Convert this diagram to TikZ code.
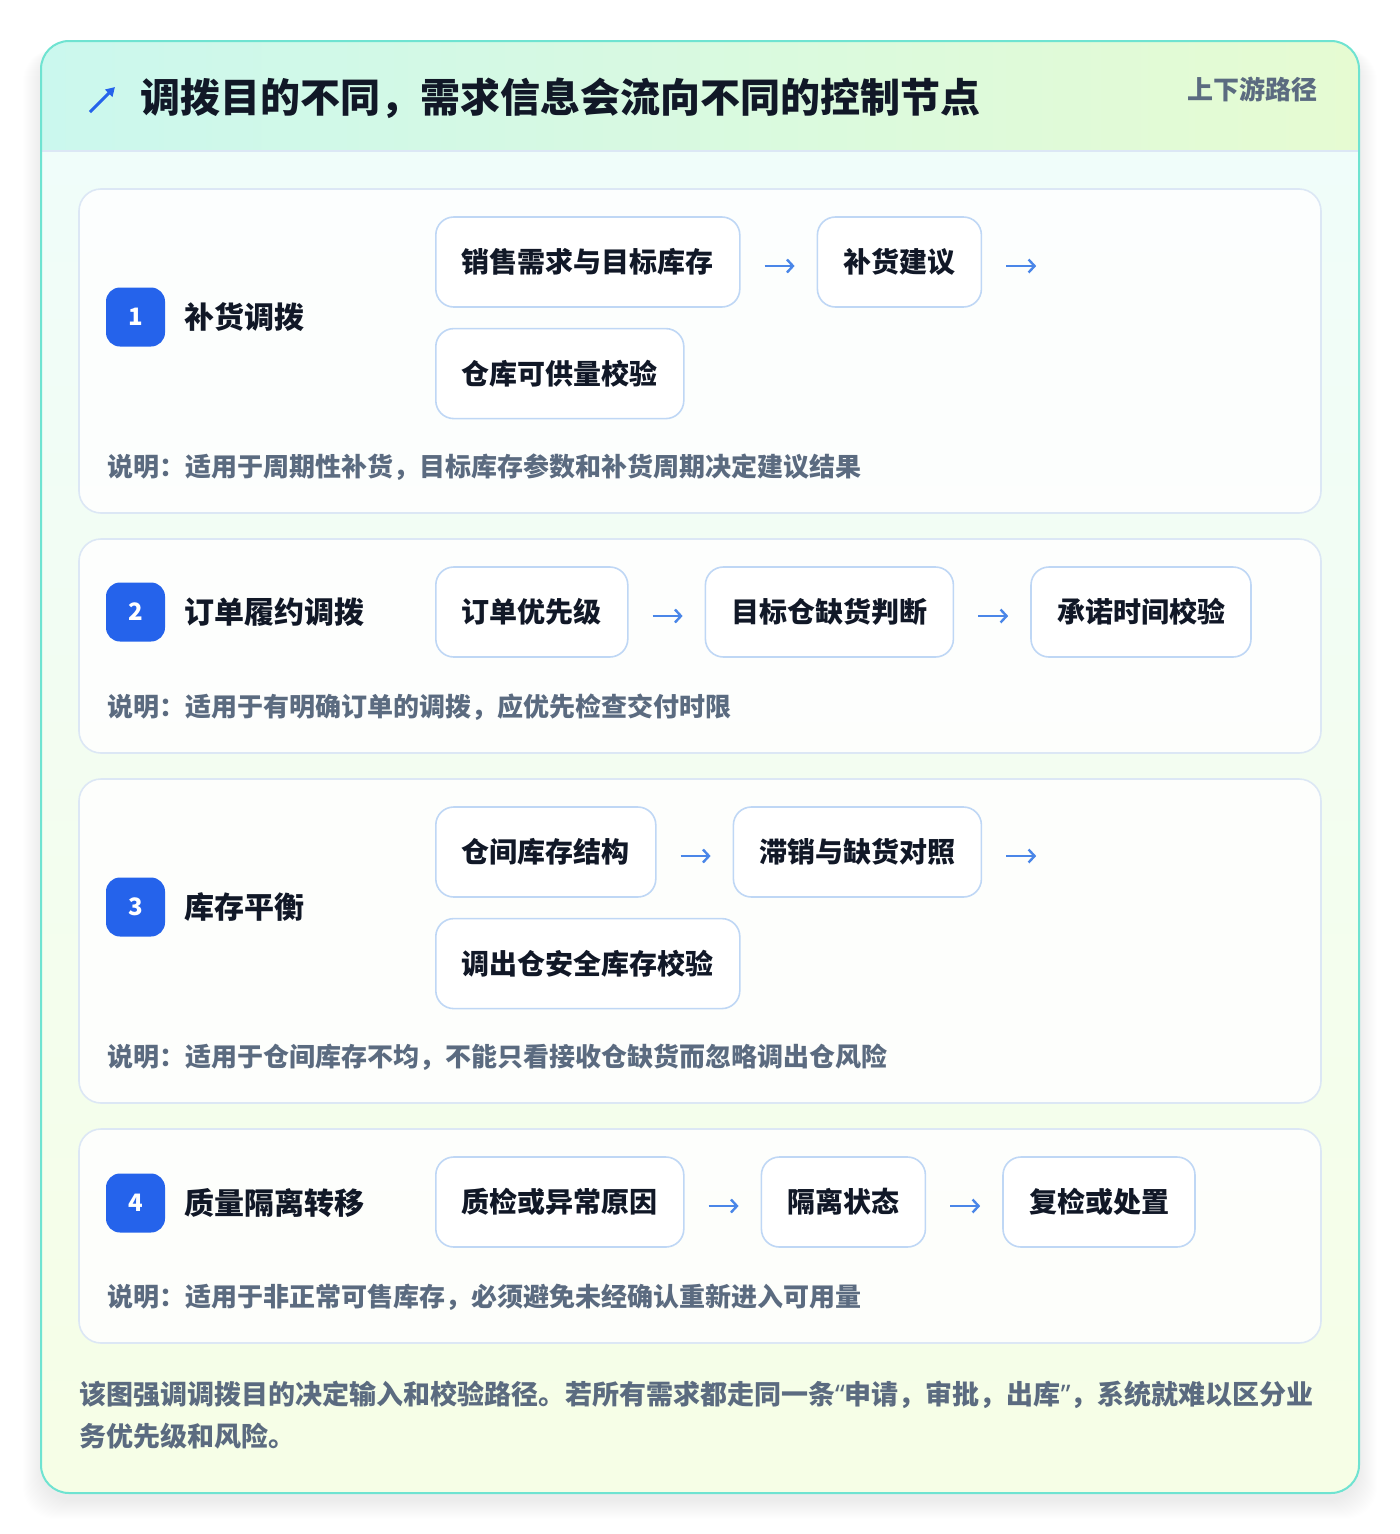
\documentclass[tikz,border=0pt]{standalone}
\usepackage{fontspec}
\setmainfont{Noto Sans CJK SC}
\newfontfamily\quotefont{Noto Sans}
\usetikzlibrary{positioning,arrows.meta}
\definecolor{inkdark}{HTML}{111827}
\definecolor{inkslate}{HTML}{5B6B80}
\definecolor{rimteal}{HTML}{6FE3D1}
\definecolor{headleft}{HTML}{CBF8EE}
\definecolor{headright}{HTML}{E6FBD2}
\definecolor{bodytop}{HTML}{F0FDFA}
\definecolor{bodybot}{HTML}{F6FEE6}
\definecolor{cardrim}{HTML}{DCE7F5}
\definecolor{boxrim}{HTML}{BFD7F5}
\definecolor{badgeblue}{HTML}{2563EB}
\definecolor{flowblue}{HTML}{4A86E8}
\begin{document}
\begin{tikzpicture}[x=1pt,y=-1pt,
  stepbox/.style={draw=boxrim,line width=1.6pt,fill=white,rounded corners=18pt,
    minimum height=90pt,inner xsep=26pt,inner ysep=0pt,text=inkdark,
    font=\bfseries\fontsize{28}{32}\selectfont},
  flow/.style={draw=flowblue,line width=2.4pt,-{Straight Barb[length=6pt,width=13pt,line width=2.4pt]}},
  badge/.style={fill=badgeblue,rounded corners=14pt,minimum size=59pt,inner sep=0pt,
    text=white,font=\bfseries\fontsize{24}{28}\selectfont},
  lane/.style={anchor=west,inner sep=0pt,text=inkdark,font=\bfseries\fontsize{30}{34}\selectfont},
  note/.style={anchor=west,inner sep=0pt,text=inkslate,font=\bfseries\fontsize{26}{30}\selectfont},
  card/.style={draw=cardrim,line width=1.6pt,fill=white,fill opacity=0.85,rounded corners=22pt}]
  \useasboundingbox (0,0) rectangle (1400,1534);
  \fill[white] (0,0) rectangle (1400,1534);
  % soft shadow under the outer card
  \foreach \k in {0,...,18}
    \fill[black,opacity=0.005,rounded corners=32pt] (41-\k,49) rectangle (1359+\k,1501+\k);
  % outer card, header band, body
  \begin{scope}
    \clip[rounded corners=28pt] (41,41) rectangle (1359,1493);
    \shade[top color=bodytop,bottom color=bodybot] (41,151) rectangle (1359,1493);
    \shade[left color=headleft,right color=headright] (41,41) rectangle (1359,151);
  \end{scope}
  \draw[cardrim,line width=1.6pt] (41,151) -- (1359,151);
  \draw[rimteal,line width=2pt,rounded corners=28pt] (41,41) rectangle (1359,1493);
  % title, icon, tag
  \coordinate (icontail) at (90,112);
  \coordinate (iconhead) at (115,87);
  \draw[badgeblue,line width=3pt,-{Triangle[length=9pt,width=10pt]}] (icontail) -- (iconhead);
  \node[anchor=west,inner sep=0pt,text=inkdark,font=\bfseries\fontsize{40}{46}\selectfont]
    (title) at (140,98) {调拨目的不同，需求信息会流向不同的控制节点};
  \node[anchor=east,inner sep=0pt,text=inkslate,font=\bfseries\fontsize{26}{30}\selectfont]
    (tag) at (1318,89) {上下游路径};
  % four lanes
  \foreach \top/\bot in {189/513,539/753,779/1103,1129/1343}
    \draw[card] (79,\top) rectangle (1321,\bot);
  \foreach \i/\y/\name/\ny/\txt in {
      1/317/补货调拨/467/说明：适用于周期性补货，目标库存参数和补货周期决定建议结果,
      2/612/订单履约调拨/707/说明：适用于有明确订单的调拨，应优先检查交付时限,
      3/907/库存平衡/1057/说明：适用于仓间库存不均，不能只看接收仓缺货而忽略调出仓风险,
      4/1203/质量隔离转移/1297/说明：适用于非正常可售库存，必须避免未经确认重新进入可用量} {
    \node[badge] (b\i) at (135.5,\y) {\i};
    \node[lane] (l\i) at (184,\y) {\name};
    \node[note] (n\i) at (107,\ny) {\txt};
  }
  % lane 1 steps
  \node[stepbox,anchor=west] (r1a) at (435,262) {销售需求与目标库存};
  \node[stepbox,right=76pt of r1a] (r1b) {补货建议};
  \node[stepbox,below right=20pt and 0pt of r1a.south west] (r1c) {仓库可供量校验};
  \coordinate (r1end) at ([shift={(54pt,-4pt)}]r1b.east);
  \draw[flow] ([shift={(24pt,-4pt)}]r1a.east) -- ([shift={(-22pt,-4pt)}]r1b.west);
  \draw[flow] ([shift={(24pt,-4pt)}]r1b.east) -- (r1end);
  % lane 2 steps
  \node[stepbox,anchor=west] (r2a) at (435,612) {订单优先级};
  \node[stepbox,right=76pt of r2a] (r2b) {目标仓缺货判断};
  \node[stepbox,right=76pt of r2b] (r2c) {承诺时间校验};
  \draw[flow] ([shift={(24pt,-4pt)}]r2a.east) -- ([shift={(-22pt,-4pt)}]r2b.west);
  \draw[flow] ([shift={(24pt,-4pt)}]r2b.east) -- ([shift={(-22pt,-4pt)}]r2c.west);
  % lane 3 steps
  \node[stepbox,anchor=west] (r3a) at (435,852) {仓间库存结构};
  \node[stepbox,right=76pt of r3a] (r3b) {滞销与缺货对照};
  \node[stepbox,below right=20pt and 0pt of r3a.south west] (r3c) {调出仓安全库存校验};
  \coordinate (r3end) at ([shift={(54pt,-4pt)}]r3b.east);
  \draw[flow] ([shift={(24pt,-4pt)}]r3a.east) -- ([shift={(-22pt,-4pt)}]r3b.west);
  \draw[flow] ([shift={(24pt,-4pt)}]r3b.east) -- (r3end);
  % lane 4 steps
  \node[stepbox,anchor=west] (r4a) at (435,1202) {质检或异常原因};
  \node[stepbox,right=76pt of r4a] (r4b) {隔离状态};
  \node[stepbox,right=76pt of r4b] (r4c) {复检或处置};
  \draw[flow] ([shift={(24pt,-4pt)}]r4a.east) -- ([shift={(-22pt,-4pt)}]r4b.west);
  \draw[flow] ([shift={(24pt,-4pt)}]r4b.east) -- ([shift={(-22pt,-4pt)}]r4c.west);
  % closing remark
  \node[anchor=north west,inner sep=0pt,align=left,text=inkslate,
    font=\bfseries\fontsize{27}{42}\selectfont] (remark) at (79,1381)
    {该图强调调拨目的决定输入和校验路径。若所有需求都走同一条{\quotefont “}申请，审批，出库{\quotefont ”}，系统就难以区分业\\务优先级和风险。};
\end{tikzpicture}
\end{document}
